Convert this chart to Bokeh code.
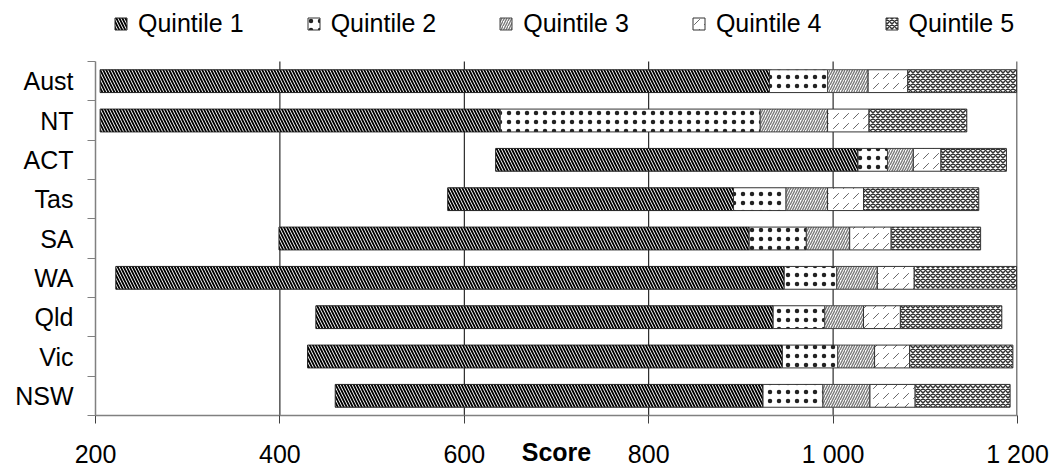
from bokeh.plotting import figure
from bokeh.models import (Range1d, FixedTicker, Legend, LegendItem,
                          ColumnDataSource)
from bokeh.embed import file_html
from bokeh.resources import INLINE

# ---- data ----
cats = ["Aust", "NT", "ACT", "Tas", "SA", "WA", "Qld", "Vic", "NSW"]
quintiles = ["Quintile 1", "Quintile 2", "Quintile 3", "Quintile 4", "Quintile 5"]
start = [205, 205, 634, 582, 399, 222, 439, 430, 460]
q1 = [726, 434, 393, 310, 510, 725, 496, 515, 464]
q2 = [63, 282, 32, 57, 62, 57, 56, 60, 65]
q3 = [44, 73, 28, 45, 47, 44, 42, 40, 51]
q4 = [43, 45, 30, 39, 45, 40, 40, 38, 49]
q5 = [118, 106, 71, 125, 97, 111, 110, 112, 103]
x_ticks = [200, 400, 600, 800, 1000, 1200]
x_tick_labels = ["200", "400", "600", "800", "1 000", "1 200"]

FONT = "Liberation Sans"
FS = "25px"
n = len(cats)
ypos = [n - 0.5 - i for i in range(n)]
source = ColumnDataSource(dict(cat=cats, y=ypos, start=start,
                               q1=q1, q2=q2, q3=q3, q4=q4, q5=q5))

FRAME_H = 410      # frame incl. legend strip
BARS_H = 354       # part of frame used by the categories
p = figure(frame_width=922, frame_height=FRAME_H, x_range=Range1d(200, 1200),
           y_range=Range1d(0, n * FRAME_H / BARS_H), output_backend="svg",
           toolbar_location=None,
           min_border_left=95, min_border_right=38, min_border_top=5,
           min_border_bottom=51)
p.outline_line_color = None

# vertical grid lines limited to the category area
inner = x_ticks[1:-1]
p.segment(x0=inner, y0=[0] * len(inner), x1=inner, y1=[n] * len(inner),
          line_color="black", line_width=1, level="underlay")
p.segment(x0=x_ticks[-1:], y0=[0], x1=x_ticks[-1:], y1=[n],
          line_color="#808080", line_width=3, level="underlay")

rs = p.hbar_stack(["start", "q1", "q2", "q3", "q4", "q5"], y="y", height=0.58,
                  source=source,
                  fill_color=["white"] * 6,
                  fill_alpha=[0, 1, 1, 1, 1, 1],
                  line_color=["white", "#222222", "#333333", "#444444", "#333333", "#333333"],
                  line_alpha=[0, 1, 1, 1, 1, 1],
                  line_width=[1] * 6,
                  hatch_pattern=[" ", "\\", ".", "/", ",", "x"],
                  hatch_color=["white", "black", "#222222", "#7a7a7a", "#666666", "#333333"],
                  hatch_scale=[6, 6, 9, 5, 10, 5],
                  hatch_weight=[1, 1.8, 0.5, 1.4, 1, 1.5],
                  hatch_alpha=[0, 1, 1, 1, 1, 1])

legend = Legend(items=[LegendItem(label=q, renderers=[r]) for q, r in zip(quintiles, rs[1:])],
                orientation="horizontal", location=(18, 377),
                label_text_font=FONT, label_text_font_size=FS,
                label_text_color="black",
                glyph_width=15, glyph_height=15, label_standoff=10, spacing=62,
                padding=0, margin=0, border_line_color=None,
                background_fill_alpha=0)
p.add_layout(legend)

# x axis
p.xaxis.ticker = FixedTicker(ticks=x_ticks, minor_ticks=[])
p.xaxis.major_label_overrides = {t: l for t, l in zip(x_ticks, x_tick_labels)}
p.xaxis.major_tick_out = 8
p.xaxis.major_tick_in = 0
p.xaxis.major_tick_line_color = "#404040"
p.xaxis.axis_line_color = "#808080"
p.xaxis.axis_line_width = 1.5
p.xaxis.major_label_standoff = 16
p.xaxis.major_label_text_font = FONT
p.xaxis.major_label_text_font_size = FS
p.xaxis.major_label_text_color = "black"
p.xaxis.axis_label = "Score"
p.xaxis.axis_label_text_font = FONT
p.xaxis.axis_label_text_font_size = FS
p.xaxis.axis_label_text_font_style = "bold"
p.xaxis.axis_label_text_color = "black"
p.xaxis.axis_label_standoff = -33

# y axis
p.yaxis.bounds = (0, n)
p.yaxis.ticker = FixedTicker(ticks=ypos, minor_ticks=list(range(n + 1)))
p.yaxis.major_label_overrides = {y: c for y, c in zip(ypos, cats)}
p.yaxis.major_tick_line_color = None
p.yaxis.major_tick_out = 8
p.yaxis.minor_tick_out = 8
p.yaxis.minor_tick_in = 0
p.yaxis.minor_tick_line_color = "#808080"
p.yaxis.axis_line_color = "#808080"
p.yaxis.axis_line_width = 1.5
p.yaxis.major_label_standoff = 14
p.yaxis.major_label_text_font = FONT
p.yaxis.major_label_text_font_size = FS
p.yaxis.major_label_text_color = "black"

p.xgrid.visible = False
p.ygrid.visible = False

open("out.html", "w").write(file_html(p, INLINE))
